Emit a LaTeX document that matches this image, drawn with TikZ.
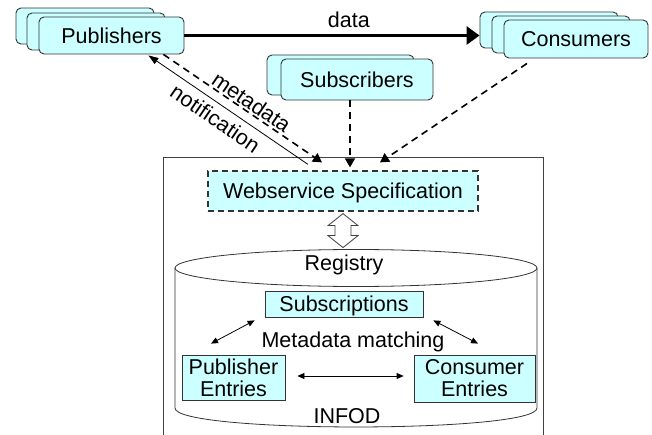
\documentclass[tikz,border=0pt]{standalone}
\usepackage{fontspec}
\setmainfont{Liberation Sans}
\usetikzlibrary{arrows.meta,calc}
\definecolor{cyanfill}{HTML}{CCFFFF}
\definecolor{edgecol}{HTML}{333333}
\begin{document}
\begin{tikzpicture}[x=1pt,y=-1pt,
  font=\fontsize{21.5}{22}\selectfont,
  rbox/.style={draw=edgecol, fill=cyanfill, rounded corners=5pt, line width=0.9pt, inner sep=0pt},
  ebox/.style={draw=edgecol, fill=cyanfill, line width=0.8pt, inner sep=0pt},
  dasharrow/.style={line width=1.6pt, dash pattern=on 7pt off 5pt, -{Triangle[length=9pt,width=10pt]}},
  thinarrow/.style={line width=0.8pt, {Triangle[length=7pt,width=6pt]}-{Triangle[length=7pt,width=6pt]}},
  txt/.style={anchor=base, inner sep=0pt}
]
\useasboundingbox (0,0) rectangle (652,435);

% outer INFOD frame
\draw[line width=0.9pt, draw=black!75] (163,435) -- (163,157) -- (543,157) -- (543,435);

% Publishers stack
\node[rbox, minimum width=138pt, minimum height=36pt] (pubA) at (85,26) {};
\node[rbox, minimum width=138pt, minimum height=37pt] (pubB) at (96,31.5) {};
\node[rbox, minimum width=145pt, minimum height=37pt] (pub) at (111.5,35.5) {Publishers};

% Consumers stack
\node[rbox, minimum width=138pt, minimum height=36pt] (conA) at (549,30) {};
\node[rbox, minimum width=138pt, minimum height=37pt] (conB) at (561,34.5) {};
\node[rbox, minimum width=144pt, minimum height=38pt] (con) at (576,39) {Consumers};

% Subscribers stack
\node[rbox, minimum width=147pt, minimum height=40pt] (subA) at (340.5,75) {};
\node[rbox, minimum width=152pt, minimum height=41pt] (sub) at (357,79.5) {Subscribers};

% Webservice specification
\node[ebox, dash pattern=on 6pt off 4pt, line width=1.2pt, minimum width=270pt, minimum height=40pt, text depth=0pt] (ws) at (343,191) {Webservice Specification};

% data arrow
\draw[line width=3pt, -{Triangle[length=13pt,width=18pt]}] (pub.east) -- node[pos=0.557, above=3pt] {data} (pub.east -| conA.west);

% metadata and notification
\draw[dasharrow] ($(pub.south east)+(-21,0)$) -- node[sloped, above, pos=0.52, inner sep=1.5pt] {metadata} ($(ws.north)+(-21,-8)$);
\draw[line width=0.8pt, {Triangle[length=10pt,width=7pt]}-] ($(pub.south east)+(-36,1)$) -- node[sloped, below=4pt, pos=0.47, inner sep=2pt] {notification} ($(ws.north)+(-35,-6)$);

% subscribers and consumers to webservice
\draw[dasharrow] ($(sub.south)+(-7,0)$) -- ($(ws.north)+(7,-3)$);
\draw[dasharrow] ($(con.south)+(-49,5)$) -- ($(ws.north)+(37,-8)$);

% hollow double arrow
\coordinate (dt) at ($(ws.south)+(0,2)$);
\draw[draw=black!75, fill=white, line width=0.8pt] (dt) -- ++(15,12) -- ++(-7,0) -- ++(0,10) -- ++(7,0) -- ++(-15,12) -- ++(-15,-12) -- ++(7,0) -- ++(0,-10) -- ++(-7,0) -- cycle;

% registry cylinder
\draw[line width=0.8pt, draw=black!80] (175,268) -- (175,408) .. controls (175,433.3) and (537,433.3) .. (537,408) -- (537,268);
\draw[line width=0.8pt, draw=black!80] (356,268) ellipse [x radius=181, y radius=18.5];

\node[txt] (regt) at (344,270) {Registry};
\node[ebox, minimum width=158pt, minimum height=26pt, text depth=0pt] (subs) at (344,304) {Subscriptions};
\node[txt] (mm) at (353,347) {Metadata matching};
\node[ebox, align=center, minimum width=103pt, minimum height=45pt] (pe) at (233.5,377.5) {Publisher\\Entries};
\node[ebox, align=center, minimum width=121pt, minimum height=47pt] (ce) at (474.5,378.5) {Consumer\\Entries};
\node[txt] (infod) at (347,423) {INFOD};

\draw[thinarrow] ($(pe.north)+(-22.5,-11)$) -- ($(subs.south west)+(-10,3)$);
\draw[thinarrow] ($(subs.south east)+(10,3)$) -- ($(ce.north)+(3.5,-11)$);
\draw[thinarrow] ($(pe.east)+(12,-1.5)$) -- ($(ce.west)+(-10,-2.5)$);
\end{tikzpicture}
\end{document}
